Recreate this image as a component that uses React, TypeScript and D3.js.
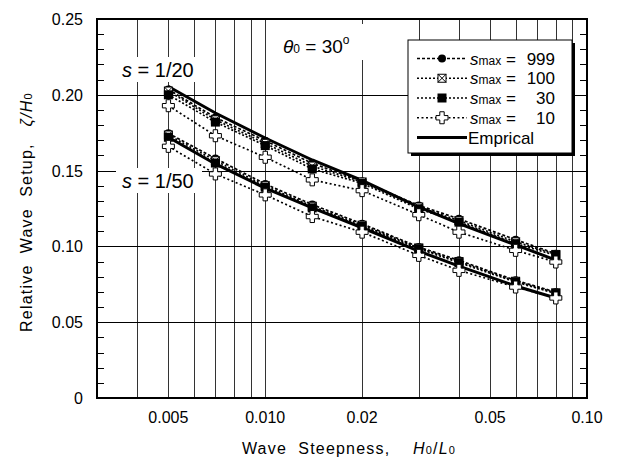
import React from "react";
import * as d3 from "d3";

// ---- data ----
const steepness = [0.005, 0.007, 0.01, 0.014, 0.02, 0.03, 0.04, 0.06, 0.08];

const emp20 = [0.2055, 0.188, 0.1715, 0.157, 0.1435, 0.126, 0.115, 0.101, 0.091];
const s999_20 = [0.2035, 0.185, 0.1697, 0.1548, 0.143, 0.127, 0.1182, 0.1044, 0.0952];
const s100_20 = [0.2025, 0.1835, 0.168, 0.153, 0.1425, 0.126, 0.117, 0.103, 0.0947];
const s30_20 = [0.2, 0.182, 0.1665, 0.1511, 0.1416, 0.1248, 0.116, 0.1018, 0.0941];
const s10_20 = [0.1928, 0.173, 0.1588, 0.1439, 0.1368, 0.1209, 0.1094, 0.0974, 0.0897];

const emp50 = [0.172, 0.1544, 0.1384, 0.1254, 0.1123, 0.0969, 0.087, 0.0739, 0.066];
const s999_50 = [0.1746, 0.158, 0.1412, 0.1276, 0.1149, 0.0996, 0.0908, 0.0776, 0.0699];
const s100_50 = [0.1735, 0.1565, 0.14, 0.1265, 0.114, 0.099, 0.09, 0.077, 0.0694];
const s30_50 = [0.172, 0.155, 0.139, 0.1254, 0.1132, 0.0985, 0.0893, 0.0765, 0.0689];
const s10_50 = [0.166, 0.1478, 0.134, 0.1197, 0.1094, 0.0941, 0.0842, 0.0732, 0.066];

const xGridValues = [0.004, 0.005, 0.006, 0.007, 0.008, 0.009, 0.01, 0.02, 0.03, 0.04, 0.05, 0.06, 0.07, 0.08, 0.09];
const xTickValues = [0.005, 0.01, 0.02, 0.05, 0.1];
const xTickLabels = ["0.005", "0.010", "0.02", "0.05", "0.10"];
const yTickValues = [0, 0.05, 0.1, 0.15, 0.2, 0.25];
const yTickLabels = ["0", "0.05", "0.10", "0.15", "0.20", "0.25"];
const yMinorValues = d3.range(1, 25).map((i) => i / 100);

const seriesKeys = ["999", "100", "30", "10"];
const legendNums = ["999", "100", "30", "10"];

const FONT = "'Liberation Sans', Arial, sans-serif";

type MarkerKind = "circle" | "xbox" | "square" | "cross";
const markerOf: Record<string, MarkerKind> = { "999": "circle", "100": "xbox", "30": "square", "10": "cross" };
const dashOf: Record<string, string> = { "999": "3,2", "100": "2,2", "30": "2,2", "10": "2,2.5" };

function Marker({ kind, cx, cy }: { kind: MarkerKind; cx: number; cy: number }) {
  if (kind === "circle") return <circle cx={cx} cy={cy} r={4} fill="#000" />;
  if (kind === "square") return <rect x={cx - 4.5} y={cy - 4.5} width={9} height={9} fill="#000" />;
  if (kind === "xbox")
    return (
      <g stroke="#000" strokeWidth={1}>
        <rect x={cx - 4} y={cy - 4} width={8} height={8} fill="#fff" />
        <path d={`M${cx - 4},${cy - 4}L${cx + 4},${cy + 4}M${cx + 4},${cy - 4}L${cx - 4},${cy + 4}`} />
      </g>
    );
  const a = 2.2, L = 6;
  const p = `M${cx - a},${cy - L}H${cx + a}V${cy - a}H${cx + L}V${cy + a}H${cx + a}V${cy + L}H${cx - a}V${cy + a}H${cx - L}V${cy - a}H${cx - a}Z`;
  return <path d={p} fill="#fff" stroke="#000" strokeWidth={1} />;
}

export default function App() {
  const x = d3.scaleLog().domain([0.003, 0.1]).range([97, 587]);
  const y = d3.scaleLinear().domain([0, 0.25]).range([398, 19]);
  const line = d3
    .line<[number, number]>()
    .x((d) => x(d[0]))
    .y((d) => y(d[1]));
  const pts = (vals: number[]) => steepness.map((s, i) => [s, vals[i]] as [number, number]);

  const groups = [
    { emp: emp20, series: { "999": s999_20, "100": s100_20, "30": s30_20, "10": s10_20 } as Record<string, number[]> },
    { emp: emp50, series: { "999": s999_50, "100": s100_50, "30": s30_50, "10": s10_50 } as Record<string, number[]> },
  ];

  const [x0, x1] = x.range();
  const [yb, yt] = y.range();

  const legendX = 408, legendY = 40, legendW = 164, legendH = 113;
  const rowY = (i: number) => 58.5 + i * 19.75;

  return (
    <svg
      width={617}
      height={459}
      style={{ position: "absolute", left: 0, top: 0, background: "#fff" }}
      fontFamily={FONT}
    >
      <rect width={617} height={459} fill="#fff" />
      {/* vertical grid */}
      {xGridValues.map((v) => (
        <line key={"vg" + v} x1={Math.round(x(v)) + 0.5} x2={Math.round(x(v)) + 0.5} y1={yt} y2={yb} stroke="#333" strokeWidth={1} />
      ))}
      {/* horizontal grid */}
      {yTickValues.slice(1, -1).map((v) => (
        <line key={"hg" + v} x1={x0} x2={x1} y1={Math.round(y(v)) + 0.5} y2={Math.round(y(v)) + 0.5} stroke="#000" strokeWidth={1} />
      ))}
      {/* minor y ticks */}
      {yMinorValues.map((v) => (
        <g key={"mt" + v}>
          <line x1={x0} x2={x0 + 7} y1={Math.round(y(v)) + 0.5} y2={Math.round(y(v)) + 0.5} stroke="#000" strokeWidth={1} />
          <line x1={x1 - 7} x2={x1} y1={Math.round(y(v)) + 0.5} y2={Math.round(y(v)) + 0.5} stroke="#000" strokeWidth={1} />
        </g>
      ))}

      {/* label backgrounds + labels */}
      <rect x={116} y={57} width={86} height={25} fill="#fff" />
      <text x={122} y={77} fontSize={20}>
        <tspan fontStyle="italic">s</tspan> = 1/20
      </text>
      <rect x={116} y={168} width={86} height={25} fill="#fff" />
      <text x={122} y={188} fontSize={20}>
        <tspan fontStyle="italic">s</tspan> = 1/50
      </text>
      <rect x={276} y={24} width={92} height={36} fill="#fff" />
      <text x={283} y={53} fontSize={19}>
        <tspan fontStyle="italic">θ</tspan>
        <tspan fontSize={12}>0</tspan>
        <tspan> = 30</tspan>
        <tspan fontSize={12} dy={-9}>o</tspan>
      </text>

      {/* empirical lines */}
      {groups.map((g, gi) => (
        <path key={"emp" + gi} d={line(pts(g.emp)) || ""} fill="none" stroke="#000" strokeWidth={3} />
      ))}
      {/* dotted series lines */}
      {groups.map((g, gi) =>
        seriesKeys.map((k) => (
          <path
            key={"sl" + gi + k}
            d={line(pts(g.series[k])) || ""}
            fill="none"
            stroke="#000"
            strokeWidth={1.7}
            strokeDasharray={dashOf[k]}
          />
        ))
      )}
      {/* markers */}
      {groups.map((g, gi) =>
        seriesKeys.map((k) =>
          pts(g.series[k]).map((d, i) => (
            <Marker key={"m" + gi + k + i} kind={markerOf[k]} cx={x(d[0])} cy={y(d[1])} />
          ))
        )
      )}

      {/* frame */}
      <rect x={x0} y={yt} width={x1 - x0} height={yb - yt} fill="none" stroke="#000" strokeWidth={2} />

      {/* y tick labels */}
      {yTickValues.map((v, i) => (
        <text key={"yl" + v} x={83} y={y(v) + 6} fontSize={16} textAnchor="end">
          {yTickLabels[i]}
        </text>
      ))}
      {/* x tick labels */}
      {xTickValues.map((v, i) => (
        <text key={"xl" + v} x={x(v)} y={423} fontSize={16} textAnchor="middle">
          {xTickLabels[i]}
        </text>
      ))}

      {/* axis titles */}
      <text x={349} y={454} fontSize={16} textAnchor="middle" letterSpacing={1.2}>
        {"Wave\u00a0\u00a0Steepness,\u00a0\u00a0\u00a0\u00a0"}
        <tspan fontStyle="italic">H</tspan>
        <tspan fontSize={11}>0</tspan>
        <tspan>/</tspan>
        <tspan fontStyle="italic">L</tspan>
        <tspan fontSize={11}>0</tspan>
      </text>
      <text transform={`translate(32,${212}) rotate(-90)`} fontSize={16} textAnchor="middle" letterSpacing={1.2}>
        {"Relative\u00a0\u00a0Wave\u00a0\u00a0Setup,\u00a0\u00a0\u00a0"}
        <tspan fontStyle="italic">ζ/H</tspan>
        <tspan fontSize={11}>0</tspan>
      </text>

      {/* legend */}
      <rect x={legendX + 3} y={legendY + 3} width={legendW} height={legendH} fill="#000" />
      <rect x={legendX} y={legendY} width={legendW} height={legendH} fill="#fff" stroke="#000" strokeWidth={1} />
      {seriesKeys.map((k, i) => (
        <g key={"lg" + k}>
          <line x1={417} x2={467} y1={rowY(i)} y2={rowY(i)} stroke="#000" strokeWidth={1.5} strokeDasharray={dashOf[k]} />
          <Marker kind={markerOf[k]} cx={442} cy={rowY(i)} />
          <text x={470} y={rowY(i) + 6} fontSize={17}>
            <tspan fontStyle="italic">s</tspan>
            <tspan fontSize={12}>max</tspan>
            <tspan> =</tspan>
          </text>
          <text x={555} y={rowY(i) + 6} fontSize={17} textAnchor="end">
            {legendNums[i]}
          </text>
        </g>
      ))}
      <line x1={417} x2={467} y1={rowY(4)} y2={rowY(4)} stroke="#000" strokeWidth={3} />
      <text x={468} y={rowY(4) + 6} fontSize={17}>
        Emprical
      </text>
    </svg>
  );
}
